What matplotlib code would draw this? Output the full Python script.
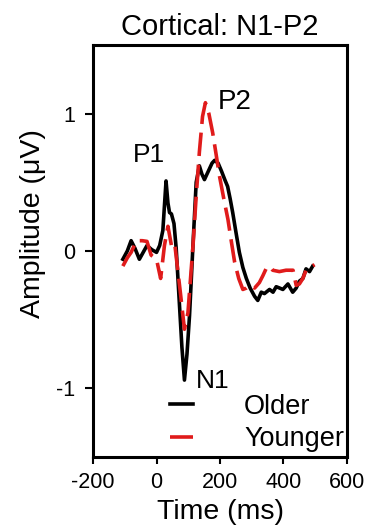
import matplotlib
matplotlib.use("Agg")
import matplotlib.pyplot as plt

plt.rcParams['font.family'] = ['Liberation Sans', 'DejaVu Sans']
plt.rcParams['axes.unicode_minus'] = False

# Older (black solid)
older_t = [-106, -92, -80, -68, -54, -42, -30, -15, 0, 10, 20, 30, 36, 41, 47, 55, 62,
           70, 80, 88, 96, 104, 115, 125, 135, 143, 151, 159, 167, 175, 183, 194, 205,
           215, 224, 232, 240, 250, 261, 272, 283, 295, 309, 319, 330, 340, 356, 367,
           377, 388, 398, 414, 429, 440, 450, 461, 471, 482, 492]
older_v = [-0.06, 0.0, 0.075, 0.02, -0.06, -0.01, 0.04, 0.01, -0.01, 0.04, 0.15, 0.51,
           0.35, 0.28, 0.27, 0.2, 0.02, -0.3, -0.7, -0.94, -0.75, -0.47, 0.05, 0.5,
           0.62, 0.56, 0.52, 0.56, 0.6, 0.64, 0.66, 0.64, 0.58, 0.52, 0.47, 0.38, 0.28,
           0.14, -0.01, -0.12, -0.2, -0.27, -0.33, -0.36, -0.3, -0.31, -0.28, -0.3,
           -0.26, -0.27, -0.28, -0.24, -0.3, -0.27, -0.22, -0.2, -0.13, -0.15, -0.11]

# Younger (red dashed)
younger_t = [-106, -92, -80, -63, -45, -30, -17, 0, 13, 25, 36, 47, 57, 65, 75, 88, 99,
             115, 125, 135, 145, 154, 165, 177, 188, 198, 212, 225, 235, 246, 259, 272,
             283, 293, 309, 324, 335, 345, 356, 366, 387, 408, 430, 440, 450, 461, 471,
             482, 498]
younger_v = [-0.11, -0.05, -0.01, 0.075, 0.075, 0.07, -0.03, -0.06, -0.2, 0.04, 0.18,
             0.04, 0.06, -0.1, -0.3, -0.57, -0.45, 0.04, 0.4, 0.72, 0.98, 1.08, 1.0,
             0.86, 0.7, 0.55, 0.38, 0.23, 0.08, -0.08, -0.2, -0.28, -0.27, -0.25,
             -0.27, -0.23, -0.18, -0.13, -0.11, -0.14, -0.15, -0.14, -0.14, -0.25,
             -0.24, -0.2, -0.14, -0.12, -0.1]

x_ticks = [-200, 0, 200, 400, 600]
y_ticks = [-1, 0, 1]
y_ticklabels = ['-1', '0', '1']

fig = plt.figure(figsize=(3.70, 5.32), dpi=100)
ax = fig.add_axes([0.2514, 0.141, 0.6864, 0.7744])

ax.plot(older_t, older_v, color='black', lw=2.6, label='Older', solid_joinstyle='round')
ax.plot(younger_t, younger_v, color='#e01b1b', lw=2.6, dashes=(6.5, 2.4), label='Younger')

ax.set_xlim(-200, 600)
ax.set_ylim(-1.5, 1.5)
ax.set_xticks(x_ticks)
ax.set_yticks(y_ticks)
ax.set_yticklabels(y_ticklabels)
ax.tick_params(axis='both', direction='out', width=1.5, labelsize=15.5, colors='black')
ax.tick_params(axis='x', length=5, pad=6)
ax.tick_params(axis='y', length=6, pad=7)
for s in ax.spines.values():
    s.set_linewidth(2.2)

ax.set_xlabel('Time (ms)', fontsize=20.5, labelpad=4)
ax.set_ylabel('Amplitude (\u03bcV)', fontsize=20.5)
ax.yaxis.set_label_coords(-0.185, 0.566)
ax.set_title('Cortical: N1-P2', fontsize=21, pad=7)

ax.text(-25, 0.70, 'P1', fontsize=19, ha='center', va='center')
ax.text(246, 1.087, 'P2', fontsize=20, ha='center', va='center')
ax.text(176, -0.95, 'N1', fontsize=19, ha='center', va='center')

ax.legend(loc='lower right', frameon=False, fontsize=19.5, handlelength=0.85,
          handletextpad=1.9, borderaxespad=0.0, borderpad=0.2, labelspacing=0.25,
          bbox_to_anchor=(1.01, -0.002))

fig.savefig('out.png', dpi=100)
